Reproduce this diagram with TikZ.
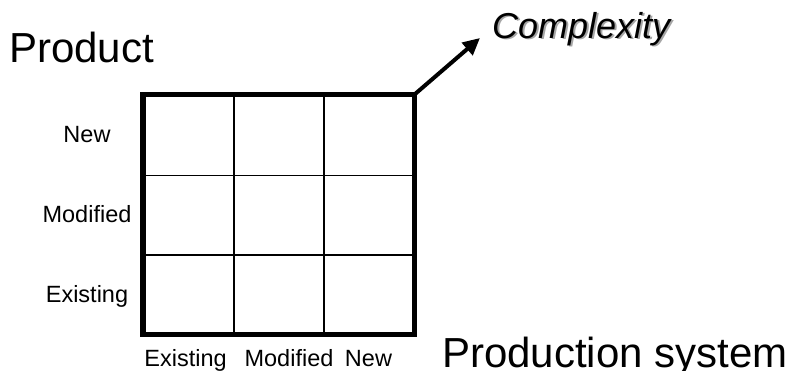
\documentclass[tikz,border=0pt]{standalone}
\usepackage{fontspec}
\setmainfont{Liberation Sans}
\usetikzlibrary{arrows.meta}
\tikzset{frame/.style={line width=5.5pt}, cell/.style={line width=1.8pt},
  pointer/.style={line width=4pt, -{Triangle[length=17pt,width=16pt]}},
  lbl/.style={font=\fontsize{23.5}{28}\selectfont, inner sep=0pt, anchor=base},
  title/.style={font=\fontsize{42}{50}\selectfont, inner sep=0pt, anchor=base west},
  axis/.style={font=\fontsize{36}{42}\selectfont\itshape, inner sep=0pt, anchor=base west}}

\begin{document}
\begin{tikzpicture}[x=1pt,y=-1pt]
  \useasboundingbox (0,0) rectangle (793,371);
  \coordinate (sw) at (143,334.5);
  \coordinate (ne) at (414.5,94.5);
  \coordinate (tip) at (480,38);
  \foreach \x in {234,324} \draw[cell] (\x,94.5) -- (\x,334.5);
  \foreach \y in {175.5,255} \draw[cell] (143,\y) -- (414.5,\y);
  \draw[frame] (sw) rectangle (ne);
  \draw[pointer] (ne) -- (tip);
  \node[title] (product) at (9,63) {Product};
  \node[title] (prodsys) at (442,368) {Production system};
  \node[axis, text=black!35] (shade) at (494,40) {Complexity};
  \node[axis] (complexity) at (492,38.5) {Complexity};
  \foreach \t/\y [count=\i] in {New/143,Modified/223,Existing/303}
    \node[lbl] (row\i) at (87,\y) {\t};
  \foreach \t/\x [count=\i] in {Existing/185.5,Modified/289,New/368.5}
    \node[lbl] (col\i) at (\x,367) {\t};
\end{tikzpicture}
\end{document}
